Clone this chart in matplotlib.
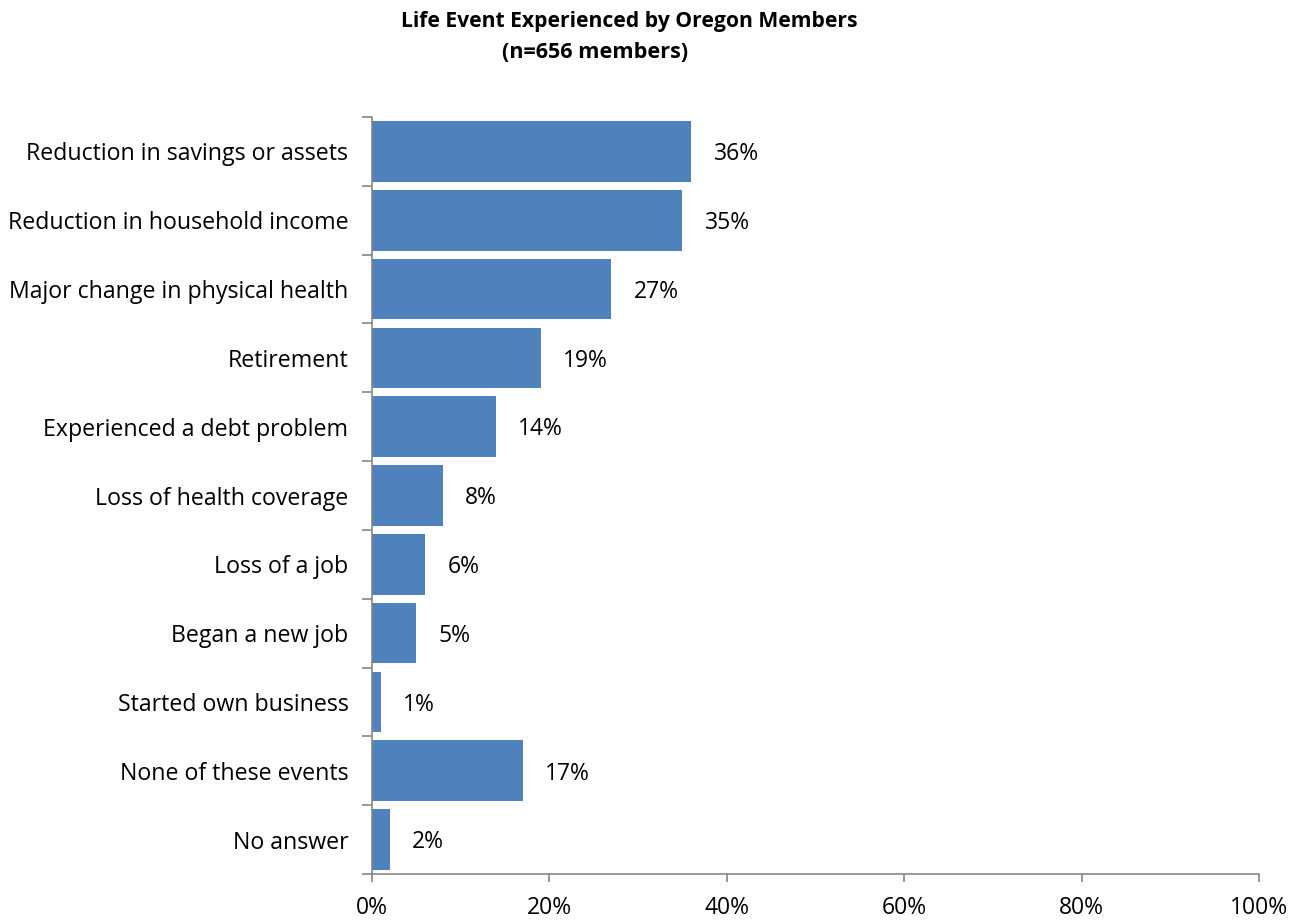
import matplotlib
matplotlib.use("Agg")
import matplotlib.pyplot as plt
from matplotlib.ticker import PercentFormatter

categories = [
    "Reduction in savings or assets",
    "Reduction in household income",
    "Major change in physical health",
    "Retirement",
    "Experienced a debt problem",
    "Loss of health coverage",
    "Loss of a job",
    "Began a new job",
    "Started own business",
    "None of these events",
    "No answer",
]
values = [36, 35, 27, 19, 14, 8, 6, 5, 1, 17, 2]
xticks = [0, 20, 40, 60, 80, 100]

plt.rcParams['font.family'] = ['Open Sans', 'DejaVu Sans']

fig = plt.figure(figsize=(12.91, 9.22), dpi=100)
ax = fig.add_axes([372/1291, 1-874/922, (1259-372)/1291, (874-117)/922])

n = len(categories)
ypos = list(range(n))
ax.barh(ypos, values, height=0.88, color="#4F81BD", edgecolor="none")
ax.set_ylim(n - 0.5, -0.5)
ax.set_xlim(0, 100)

for y, v in zip(ypos, values):
    ax.annotate(f"{v}%", xy=(v, y), xytext=(16, -2), textcoords="offset points",
                ha="left", va="center", fontsize=16.5, color="black")

# y axis: ticks at category boundaries, labels at centers
ax.set_yticks([i - 0.5 for i in range(n + 1)])
ax.set_yticklabels([])
ax.set_yticks(ypos, minor=True)
ax.set_yticklabels(categories, minor=True, fontsize=16.7)
ax.tick_params(axis="y", which="major", length=7, width=1.2, color="#868686", direction="out")
ax.tick_params(axis="y", which="minor", length=0, pad=17)

ax.set_xticks(xticks)
ax.xaxis.set_major_formatter(PercentFormatter(decimals=0))
ax.tick_params(axis="x", length=6, width=1.2, color="#868686", labelsize=16.5, pad=10)

for side in ["top", "right"]:
    ax.spines[side].set_visible(False)
for side in ["left", "bottom"]:
    ax.spines[side].set_color("#868686")
    ax.spines[side].set_linewidth(1.2)

fig.text(629/1291, 1-22/922, "Life Event Experienced by Oregon Members", ha="center", va="center",
         fontsize=15.2, fontweight="bold")
fig.text(595/1291, 1-53/922, "(n=656 members)", ha="center", va="center",
         fontsize=15.6, fontweight="bold")

fig.savefig("out.png", dpi=100)
